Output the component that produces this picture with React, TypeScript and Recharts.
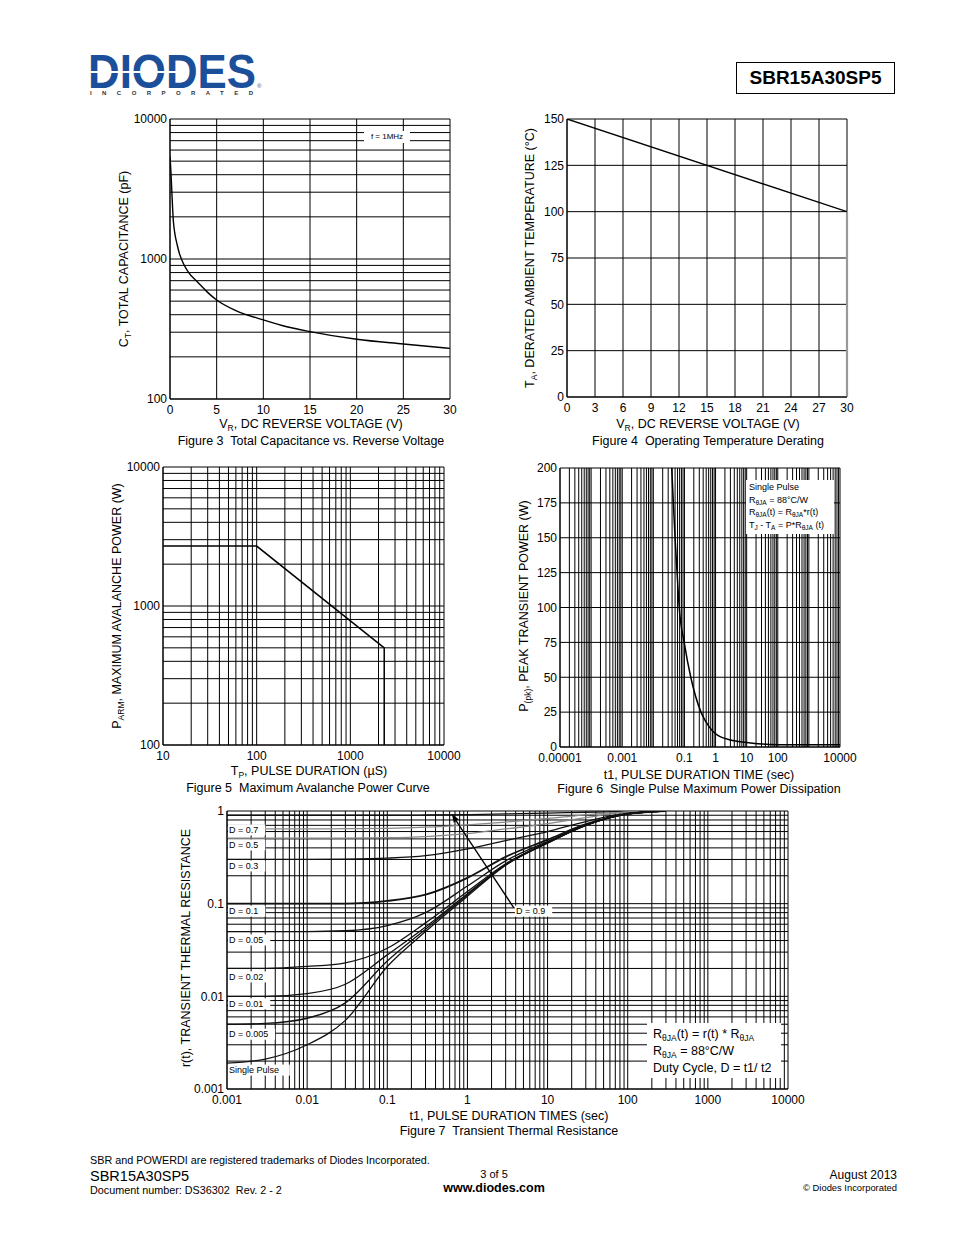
import React from 'react'
import { LineChart, Line, XAxis, YAxis, ReferenceLine, ReferenceDot } from 'recharts'

const FONT = '"Liberation Sans", Arial, Helvetica, sans-serif'

// Figure 3 - capacitance vs reverse voltage
const capVoltage = [0, 0.1, 0.2, 0.35, 0.5, 0.75, 1, 1.5, 2, 3, 4, 5, 7, 10, 12, 15, 20, 25, 30]
const capValue = [5400, 4200, 3000, 1900, 1550, 1280, 1100, 910, 800, 680, 580, 510, 430, 367, 335, 303, 267, 247, 230]
const capXTicks = [0, 5, 10, 15, 20, 25, 30]
const capYTicks = [100, 1000, 10000]

// Figure 4 - temperature derating
const derateVoltage = [0, 30]
const derateTemp = [150, 100]
const cutoffVoltage = [30, 30]
const cutoffTemp = [100, 0]
const derateXTicks = [0, 3, 6, 9, 12, 15, 18, 21, 24, 27, 30]
const derateYTicks = [0, 25, 50, 75, 100, 125, 150]

// Figure 5 - avalanche power
const avPulse = [10, 100, 2300, 2300]
const avPower = [2700, 2700, 500, 100]
const avXTicks = [10, 100, 1000, 10000]
const avYTicks = [100, 1000, 10000]

// Figure 6 - single pulse power
const spTime = [0.039, 0.044, 0.05, 0.058, 0.068, 0.1, 0.16, 0.34, 0.6, 1, 3, 10, 30, 100, 1000, 10000]
const spPower = [200, 175, 150, 125, 100, 74, 50, 25, 15, 9.5, 5, 3.3, 2.2, 1.7, 1.6, 1.6]
const spXTicks = [0.00001, 0.001, 0.1, 1, 10, 100, 10000]
const spYTicks = [0, 25, 50, 75, 100, 125, 150, 175, 200]

// Figure 7 - transient thermal resistance
const thTime = [0.001, 0.003, 0.01, 0.03, 0.1, 0.3, 1, 3, 10, 30, 100, 300]
const rD09 = [0.9, 0.9, 0.9, 0.9, 0.9, 0.905, 0.915, 0.93, 0.95, 0.97, 0.99, 1]
const rD07 = [0.64, 0.64, 0.64, 0.645, 0.65, 0.67, 0.71, 0.76, 0.83, 0.91, 0.98, 1]
const rD05 = [0.51, 0.51, 0.51, 0.51, 0.515, 0.53, 0.57, 0.64, 0.73, 0.85, 0.97, 1]
const rD03 = [0.3, 0.3, 0.3, 0.302, 0.31, 0.33, 0.39, 0.48, 0.6, 0.77, 0.95, 1]
const rD01 = [0.1, 0.1, 0.1, 0.1, 0.107, 0.125, 0.19, 0.32, 0.49, 0.72, 0.93, 1]
const rD005 = [0.05, 0.05, 0.05, 0.051, 0.058, 0.08, 0.155, 0.29, 0.47, 0.71, 0.93, 1]
const rD002 = [0.02, 0.02, 0.021, 0.023, 0.033, 0.062, 0.135, 0.27, 0.46, 0.7, 0.93, 1]
const rD001 = [0.01, 0.01, 0.0107, 0.0135, 0.028, 0.056, 0.128, 0.265, 0.455, 0.7, 0.93, 1]
const rD0005 = [0.005, 0.0051, 0.0058, 0.0085, 0.024, 0.053, 0.124, 0.262, 0.452, 0.7, 0.93, 1]
const rSingle = [0.0019, 0.0021, 0.003, 0.0055, 0.021, 0.05, 0.12, 0.26, 0.45, 0.7, 0.93, 1]
const thSeries = [
  { name: 'D = 0.9', r: rD09, color: '#111', tag: 0.92 },
  { name: 'D = 0.7', r: rD07, color: '#888', tag: 0.624 },
  { name: 'D = 0.5', r: rD05, color: '#888', tag: 0.43 },
  { name: 'D = 0.3', r: rD03, color: '#111', tag: 0.255 },
  { name: 'D = 0.1', r: rD01, color: '#111', tag: 0.083 },
  { name: 'D = 0.05', r: rD005, color: '#111', tag: 0.0406 },
  { name: 'D = 0.02', r: rD002, color: '#111', tag: 0.0162 },
  { name: 'D = 0.01', r: rD001, color: '#111', tag: 0.0083 },
  { name: 'D = 0.005', r: rD0005, color: '#111', tag: 0.0039 },
  { name: 'Single Pulse', r: rSingle, color: '#111', tag: 0.0016 },
]
const thXTicks = [0.001, 0.01, 0.1, 1, 10, 100, 1000, 10000]
const thYTicks = [0.001, 0.01, 0.1, 1]

// 1..9 x 10^k grid values between lo and hi
function logGrid(lo: number, hi: number) {
  const out: number[] = []
  for (let k = Math.round(Math.log10(lo)); k < Math.round(Math.log10(hi)); k++) {
    for (let m = 1; m < 10; m++) out.push(Number((m * Math.pow(10, k)).toPrecision(3)))
  }
  out.push(hi)
  return out
}

const zip = (xs: number[], ys: number[]) => xs.map((x, i) => ({ x, y: ys[i] }))

const tickStyle = { fill: '#000', fontSize: 12, fontFamily: FONT }

function gridLines(xs: number[], ys: number[]) {
  return [
    ...xs.map((v) => <ReferenceLine key={'gx' + v} x={v} stroke="#000" strokeWidth={1} />),
    ...ys.map((v) => <ReferenceLine key={'gy' + v} y={v} stroke="#000" strokeWidth={1} />),
  ]
}

function Txt({ x, y, size = 12.5, bold = false, anchor = 'center', rotate = false, children }: any) {
  const tx = anchor === 'center' ? '-50%' : anchor === 'end' ? '-100%' : '0'
  return (
    <div
      style={{
        position: 'absolute',
        left: x,
        top: y,
        transform: `translate(${tx}, -50%)` + (rotate ? ' rotate(-90deg)' : ''),
        whiteSpace: 'nowrap',
        fontSize: size,
        fontWeight: bold ? 'bold' : 'normal',
        fontFamily: FONT,
        color: '#000',
        lineHeight: 1,
      }}
    >
      {children}
    </div>
  )
}

const Sub = ({ children, size = 8.5, drop = 3 }: any) => (
  <span style={{ fontSize: size, position: 'relative', top: drop, lineHeight: 0 }}>{children}</span>
)

function Chart({ left, top, w, h, xScale, yScale, xDomain, yDomain, xTicks, yTicks, children }: any) {
  return (
    <div style={{ position: 'absolute', left: left - 60, top: top - 10 }}>
      <LineChart width={w + 90} height={h + 40} margin={{ top: 10, right: 30, bottom: 0, left: 0 }}>
        <XAxis
          dataKey="x"
          type="number"
          scale={xScale}
          domain={xDomain}
          ticks={xTicks}
          interval={0}
          allowDataOverflow
          height={30}
          tickSize={0}
          tickMargin={6}
          tick={tickStyle}
          axisLine={{ stroke: '#000' }}
        />
        <YAxis
          dataKey="y"
          type="number"
          scale={yScale}
          domain={yDomain}
          ticks={yTicks}
          interval={0}
          allowDataOverflow
          width={60}
          tickSize={0}
          tickMargin={3}
          tick={tickStyle}
          axisLine={{ stroke: '#000' }}
        />
        {children}
      </LineChart>
    </div>
  )
}

function tagShape(text: string) {
  return (p: any) => {
    const w = text.length * 4.9 + 3
    return (
      <g>
        <rect x={p.cx + 1} y={p.cy - 5.5} width={w} height={11} fill="#fff" />
        <text x={p.cx + 2} y={p.cy + 3} fontSize={9} fontFamily={FONT} fill="#000">
          {text}
        </text>
      </g>
    )
  }
}

function arrowShape(p: any) {
  const { x1, y1, x2, y2 } = p
  const a = Math.atan2(y2 - y1, x2 - x1)
  const L = 8
  const s = 3
  const bx = x2 - L * Math.cos(a)
  const by = y2 - L * Math.sin(a)
  const pts = `${x2},${y2} ${bx - s * Math.sin(a)},${by + s * Math.cos(a)} ${bx + s * Math.sin(a)},${by - s * Math.cos(a)}`
  return (
    <g>
      <line x1={x1} y1={y1} x2={bx} y2={by} stroke="#000" strokeWidth={1.3} />
      <polygon points={pts} fill="#000" />
    </g>
  )
}

const boxStyle: React.CSSProperties = {
  position: 'absolute',
  background: '#fff',
  fontFamily: FONT,
  color: '#000',
  whiteSpace: 'nowrap',
  boxSizing: 'border-box',
}

export default function App() {
  return (
    <div style={{ position: 'absolute', left: 0, top: 0, width: 954, height: 1235, background: '#fff', fontFamily: FONT }}>
      {/* header */}
      <svg style={{ position: 'absolute', left: 85, top: 48 }} width={185} height={55}>
        <text x={3} y={40} fontSize={49} fontWeight={900} fill="#1c4f9a" fontFamily={FONT} textLength={168} lengthAdjust="spacingAndGlyphs">
          DIODES
        </text>
        <rect x={5} y={23} width={88} height={2} fill="#fff" />
        <text x={172} y={40} fontSize={6} fill="#1c4f9a" fontFamily={FONT}>®</text>
        <text x={5} y={47} fontSize={6} fontWeight="bold" fill="#333" fontFamily={FONT} textLength={163} lengthAdjust="spacing">
          INCORPORATED
        </text>
      </svg>
      <div style={{ position: 'absolute', left: 736, top: 62, width: 157, height: 30, border: '1.5px solid #000', display: 'flex', alignItems: 'center', justifyContent: 'center', fontSize: 19, fontWeight: 'bold' }}>
        SBR15A30SP5
      </div>

      {/* Figure 3 */}
      <Chart left={170} top={119} w={280} h={280} xScale="linear" yScale="log" xDomain={[0, 30]} yDomain={[100, 10000]} xTicks={capXTicks} yTicks={capYTicks}>
        {gridLines(capXTicks, logGrid(100, 10000))}
        <Line data={zip(capVoltage, capValue)} dataKey="y" type="monotone" stroke="#000" strokeWidth={1.4} dot={false} activeDot={false} isAnimationActive={false} />
      </Chart>
      <div style={{ ...boxStyle, left: 364, top: 131, width: 46, height: 12, fontSize: 8, textAlign: 'center', lineHeight: '12px' }}>f = 1MHz</div>
      <Txt x={124} y={259} rotate>C<Sub>T</Sub>, TOTAL CAPACITANCE (pF)</Txt>
      <Txt x={311} y={424}>V<Sub>R</Sub>, DC REVERSE VOLTAGE (V)</Txt>
      <Txt x={311} y={441}>Figure 3&nbsp; Total Capacitance vs. Reverse Voltage</Txt>

      {/* Figure 4 */}
      <Chart left={567} top={119} w={280} h={278} xScale="linear" yScale="linear" xDomain={[0, 30]} yDomain={[0, 150]} xTicks={derateXTicks} yTicks={derateYTicks}>
        {gridLines(derateXTicks.slice(0, -1), derateYTicks)}
        <ReferenceLine segment={[{ x: 30, y: 100 }, { x: 30, y: 150 }]} stroke="#000" strokeWidth={1} />
        <ReferenceLine
          segment={[{ x: cutoffVoltage[0], y: cutoffTemp[0] }, { x: cutoffVoltage[1], y: cutoffTemp[1] }]}
          stroke="#999"
          strokeWidth={2.2}
        />
        <Line data={zip(derateVoltage, derateTemp)} dataKey="y" type="linear" stroke="#000" strokeWidth={1.4} dot={false} activeDot={false} isAnimationActive={false} />
      </Chart>
      <Txt x={530} y={258} rotate>T<Sub>A</Sub>, DERATED AMBIENT TEMPERATURE (°C)</Txt>
      <Txt x={708} y={424}>V<Sub>R</Sub>, DC REVERSE VOLTAGE (V)</Txt>
      <Txt x={708} y={441}>Figure 4&nbsp; Operating Temperature Derating</Txt>

      {/* Figure 5 */}
      <Chart left={163} top={467} w={281} h={278} xScale="log" yScale="log" xDomain={[10, 10000]} yDomain={[100, 10000]} xTicks={avXTicks} yTicks={avYTicks}>
        {gridLines(logGrid(10, 10000), logGrid(100, 10000))}
        <Line data={zip(avPulse, avPower)} dataKey="y" type="linear" stroke="#000" strokeWidth={1.5} dot={false} activeDot={false} isAnimationActive={false} />
      </Chart>
      <Txt x={117} y={606} rotate>P<Sub>ARM</Sub>, MAXIMUM AVALANCHE POWER (W)</Txt>
      <Txt x={309} y={771}>T<Sub>P</Sub>, PULSE DURATION (µS)</Txt>
      <Txt x={308} y={788}>Figure 5&nbsp; Maximum Avalanche Power Curve</Txt>

      {/* Figure 6 */}
      <Chart left={560} top={468} w={280} h={279} xScale="log" yScale="linear" xDomain={[0.00001, 10000]} yDomain={[0, 200]} xTicks={spXTicks} yTicks={spYTicks}>
        {gridLines(logGrid(0.00001, 10000), spYTicks)}
        <Line data={zip(spTime, spPower)} dataKey="y" type="monotone" stroke="#000" strokeWidth={1.5} dot={false} activeDot={false} isAnimationActive={false} />
      </Chart>
      <div style={{ ...boxStyle, left: 746, top: 480, width: 88, height: 54, fontSize: 9, lineHeight: '12.5px', paddingLeft: 3, paddingTop: 1 }}>
        <div>Single Pulse</div>
        <div>R<Sub size={6.5} drop={2}>θJA</Sub> = 88°C/W</div>
        <div>R<Sub size={6.5} drop={2}>θJA</Sub>(t) = R<Sub size={6.5} drop={2}>θJA</Sub>*r(t)</div>
        <div>T<Sub size={6.5} drop={2}>J</Sub> - T<Sub size={6.5} drop={2}>A</Sub> = P*R<Sub size={6.5} drop={2}>θJA</Sub> (t)</div>
      </div>
      <Txt x={524} y={606} rotate>P<Sub>(pk)</Sub>, PEAK TRANSIENT POWER (W)</Txt>
      <Txt x={699} y={775}>t1, PULSE DURATION TIME (sec)</Txt>
      <Txt x={699} y={789}>Figure 6&nbsp; Single Pulse Maximum Power Dissipation</Txt>

      {/* Figure 7 */}
      <Chart left={227} top={811} w={561} h={278} xScale="log" yScale="log" xDomain={[0.001, 10000]} yDomain={[0.001, 1]} xTicks={thXTicks} yTicks={thYTicks}>
        {gridLines(logGrid(0.001, 10000), logGrid(0.001, 1))}
        {thSeries.map((s) => (
          <Line key={s.name} data={zip(thTime, s.r)} dataKey="y" type="monotone" stroke={s.color} strokeWidth={s.name === 'D = 0.1' ? 1.8 : 1.3} dot={false} activeDot={false} isAnimationActive={false} />
        ))}
        <ReferenceLine segment={[{ x: 3.8, y: 0.09 }, { x: 0.64, y: 0.92 }]} shape={arrowShape} />
        {thSeries.slice(1).map((s) => (
          <ReferenceDot key={'t' + s.name} x={0.001} y={s.tag} shape={tagShape(s.name)} />
        ))}
        <ReferenceDot x={3.8} y={0.083} shape={tagShape('D = 0.9')} />
      </Chart>
      <div style={{ ...boxStyle, left: 647, top: 1023, width: 134, height: 55, fontSize: 12.5, lineHeight: '17px', paddingLeft: 6, paddingTop: 3 }}>
        <div>R<Sub size={8.5}>θJA</Sub>(t) = r(t) * R<Sub size={8.5}>θJA</Sub></div>
        <div>R<Sub size={8.5}>θJA</Sub> = 88°C/W</div>
        <div>Duty Cycle, D = t1/ t2</div>
      </div>
      <Txt x={186} y={948} rotate>r(t), TRANSIENT THERMAL RESISTANCE</Txt>
      <Txt x={509} y={1116}>t1, PULSE DURATION TIMES (sec)</Txt>
      <Txt x={509} y={1131}>Figure 7&nbsp; Transient Thermal Resistance</Txt>

      {/* footer */}
      <Txt x={90} y={1160} size={10.8} anchor="start">SBR and POWERDI are registered trademarks of Diodes Incorporated.</Txt>
      <Txt x={90} y={1176} size={14.5} anchor="start">SBR15A30SP5</Txt>
      <Txt x={90} y={1190} size={10.8} anchor="start">Document number: DS36302&nbsp; Rev. 2 - 2</Txt>
      <Txt x={494} y={1174} size={11}>3 of 5</Txt>
      <Txt x={494} y={1188} size={12.5} bold>www.diodes.com</Txt>
      <Txt x={897} y={1175} size={12} anchor="end">August 2013</Txt>
      <Txt x={897} y={1188} size={9.4} anchor="end">© Diodes Incorporated</Txt>
    </div>
  )
}
